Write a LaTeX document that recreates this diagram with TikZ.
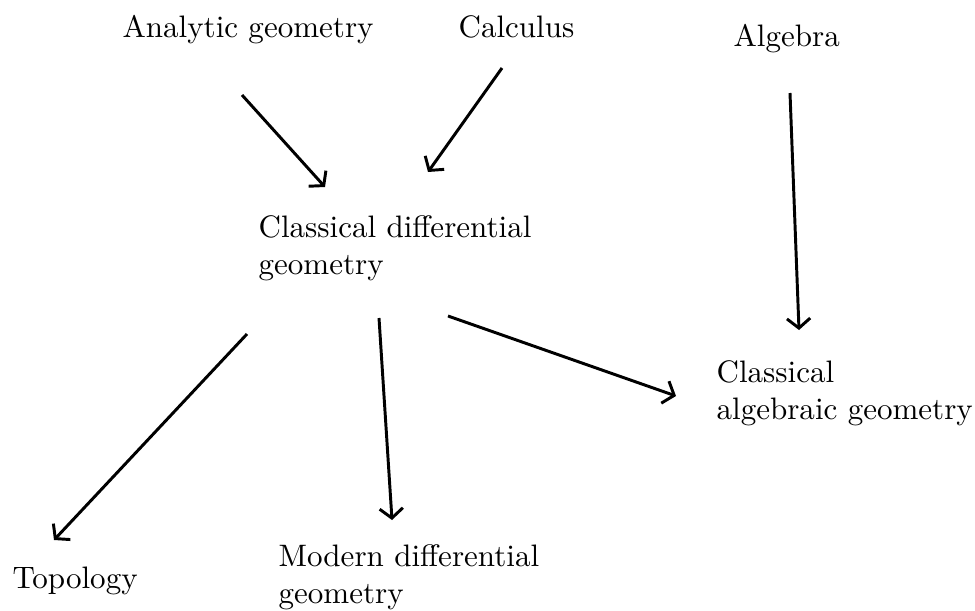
\documentclass[tikz,border=0pt]{standalone}
\usetikzlibrary{arrows.meta}
\begin{document}
\begin{tikzpicture}[x=0.32222pt,y=-0.32222pt,
  lbl/.style={anchor=base west,inner sep=0pt,font=\fontsize{10}{12.1}\selectfont},
  arr/.style={line width=0.95pt,-{Straight Barb[length=3.1pt,width=7.5pt,line width=0.95pt]}}]
\useasboundingbox (0,0) rectangle (975,610);
\node[lbl] (ag) at (122,37) {Analytic geometry};
\node[lbl] (calc) at (458,37) {Calculus};
\node[lbl] (alg) at (733,46) {Algebra};
\node[lbl] (cdg) at (258,237) {\begin{tabular}[t]{@{}l@{}}Classical differential\\geometry\end{tabular}};
\node[lbl] (cag) at (716,382) {\begin{tabular}[t]{@{}l@{}}Classical\\algebraic geometry\end{tabular}};
\node[lbl] (top) at (12,588) {Topology};
\node[lbl] (mdg) at (278,566) {\begin{tabular}[t]{@{}l@{}}Modern differential\\geometry\end{tabular}};
\coordinate (ag-o) at (242,95);
\coordinate (cdg-i1) at (325,187);
\coordinate (calc-o) at (502,68);
\coordinate (cdg-i2) at (428,172);
\coordinate (alg-o) at (790,93);
\coordinate (cag-i) at (799,330);
\coordinate (cdg-o1) at (247,334);
\coordinate (top-i) at (54,540);
\coordinate (cdg-o2) at (379,318);
\coordinate (mdg-i) at (392,520);
\coordinate (cdg-o3) at (448,316);
\coordinate (cag-i2) at (676,396);
\draw[arr] (ag-o) -- (cdg-i1);
\draw[arr] (calc-o) -- (cdg-i2);
\draw[arr] (alg-o) -- (cag-i);
\draw[arr] (cdg-o1) -- (top-i);
\draw[arr] (cdg-o2) -- (mdg-i);
\draw[arr] (cdg-o3) -- (cag-i2);
\end{tikzpicture}
\end{document}
